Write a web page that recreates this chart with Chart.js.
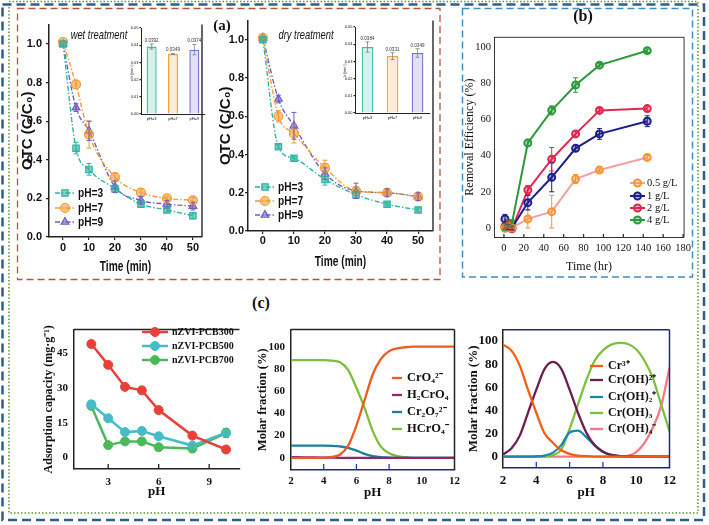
<!DOCTYPE html>
<html>
<head>
<meta charset="utf-8">
<script src="https://cdn.jsdelivr.net/npm/chart.js@4.4.1/dist/chart.umd.min.js"></script>
<style>
  body { margin: 0; background: #fff; width: 709px; height: 525px; position: relative; overflow: hidden; }
  canvas { position: absolute; }
  svg { position: absolute; left: 0; top: 0; }
  .etiket { position: absolute; white-space: nowrap; line-height: 1; color: #111; transform: translate(-50%, -50%); }
  .dar { transform: translate(-50%, -50%) scaleX(0.72); }
</style>
</head>
<body>

<svg width="709" height="525">
  <rect x="9" y="1.5" width="689" height="511.5" fill="none" stroke="#5c9a2c" stroke-width="1.5" stroke-dasharray="1.5,2"/>
  <rect x="2.5" y="4.5" width="701.5" height="515.5" fill="none" stroke="#2c5f8f" stroke-width="2.5" stroke-dasharray="9,5"/>
  <rect x="17.5" y="8.5" width="422.5" height="271" fill="none" stroke="#b4553a" stroke-width="1.3" stroke-dasharray="7,4"/>
  <rect x="462.5" y="8.5" width="230" height="268.5" fill="none" stroke="#3f8fbf" stroke-width="1.5" stroke-dasharray="7,4"/>
</svg>

<canvas id="cIslak"></canvas>
<canvas id="cIslakK"></canvas>
<canvas id="cKuru"></canvas>
<canvas id="cKuruK"></canvas>
<canvas id="cGiderim"></canvas>
<canvas id="cAdsorpsiyon"></canvas>
<canvas id="cKrom6"></canvas>
<canvas id="cKrom3"></canvas>

<div class="etiket" style="left:222px;top:25px;font:bold 15px 'Liberation Serif',serif;">(a)</div>
<div class="etiket" style="left:583px;top:16px;font:bold 16px 'Liberation Serif',serif;">(b)</div>
<div class="etiket" style="left:261px;top:303px;font:bold 16px 'Liberation Serif',serif;">(c)</div>
<div class="etiket dar" style="left:99px;top:34px;font:italic 13px 'Liberation Sans',sans-serif;">wet treatment</div>
<div class="etiket dar" style="left:306px;top:34px;font:italic 13px 'Liberation Sans',sans-serif;">dry treatment</div>

<script>
/*PANEL A VERILERI*/
var sureDk = [0, 5, 10, 20, 30, 40, 50];
var islakPh3 = [1.00, 0.46, 0.35, 0.25, 0.17, 0.14, 0.11];
var islakPh7 = [1.01, 0.79, 0.53, 0.31, 0.23, 0.20, 0.19];
var islakPh9 = [1.00, 0.67, 0.55, 0.26, 0.19, 0.17, 0.16];
var islakHata3 = [0, 0.03, 0.03, 0.02, 0.015, 0.01, 0.015];
var islakHata7 = [0, 0.02, 0.07, 0.02, 0.02, 0.01, 0.015];
var islakHata9 = [0, 0.02, 0.05, 0.03, 0.02, 0.02, 0.02];
var kuruPh3 = [1.00, 0.44, 0.38, 0.27, 0.19, 0.14, 0.11];
var kuruPh7 = [1.01, 0.60, 0.51, 0.33, 0.21, 0.20, 0.18];
var kuruPh9 = [1.01, 0.69, 0.55, 0.30, 0.21, 0.20, 0.18];
var kuruHata3 = [0, 0.01, 0.01, 0.03, 0.02, 0.01, 0.01];
var kuruHata7 = [0, 0.03, 0.05, 0.04, 0.02, 0.01, 0.01];
var kuruHata9 = [0, 0.02, 0.07, 0.03, 0.04, 0.02, 0.02];
var otcTikX = [0, 10, 20, 30, 40, 50];
var otcTikY = [0, 0.2, 0.4, 0.6, 0.8, 1.0];

var phEtiketleri = ['pH=3', 'pH=7', 'pH=9'];
var islakK = [0.0392, 0.0349, 0.0374];
var islakKHata = [0.0015, 0.0003, 0.003];
var kuruK = [0.0384, 0.0331, 0.0349];
var kuruKHata = [0.003, 0.002, 0.0025];
var kTik = [0, 0.01, 0.02, 0.03, 0.04, 0.05];

/*PANEL B VERILERI*/
var sureSaat = [1, 4, 8, 24, 48, 72, 96, 144];
var giderim05 = [0, 0.5, 0, 5, 9, 27, 32, 39];
var giderim1 = [5, 0.5, 0, 14, 28, 44, 52, 59];
var giderim2 = [1, 2, -0.5, 21, 38, 52, 65, 66];
var giderim4 = [0, 2.5, 2.5, 47, 65, 79, 90, 98];
var giderimHata05 = [2, 2.5, 1.5, 5, 9, 2.5, 1, 1];
var giderimHata1 = [2.5, 1.5, 1, 4, 8, 1.5, 3, 3];
var giderimHata2 = [1.5, 2, 1, 2.5, 6.5, 1.5, 1, 1];
var giderimHata4 = [1.5, 2, 1.5, 2, 2.5, 4, 1, 1];
var bTikX = [0, 20, 40, 60, 80, 100, 120, 140, 160, 180];
var bTikY = [0, 20, 40, 60, 80, 100];

/*PANEL C VERILERI*/
var phDegerleri = [2, 3, 4, 5, 6, 8, 10];
var pcb300 = [49, 40, 30.5, 29, 20.5, 9.5, 3.5];
var pcb500 = [23, 17, 11, 11.5, 9.2, 5.2, 10.8];
var pcb700 = [22.3, 5.4, 7, 7, 4.5, 3.9, 10.6];
var pcbHata300 = [0, 0, 0, 0, 0, 1, 0.8];
var pcbHata500 = [1.5, 0, 0, 0, 0, 0.8, 1.5];
var pcbHata700 = [0, 0, 0, 0, 0, 1.5, 2];
var c1TikX = [3, 6, 9];
var c1TikY = [0, 15, 30, 45];

var phIzgara = [2, 2.5, 3, 3.5, 4, 4.5, 5, 5.5, 6, 6.5, 7, 7.5, 8, 8.5, 9, 9.5, 10, 10.5, 11, 11.5, 12];
var kromat = [0, 0, 0, 0, 0.2, 0.8, 3, 11, 29, 52, 75, 89, 96, 98.5, 99.5, 100, 100, 100, 100, 100, 100];
var kromikAsit = [0.5, 0.5, 0.4, 0.3, 0.2, 0.1, 0, 0, 0, 0, 0, 0, 0, 0, 0, 0, 0, 0, 0, 0, 0];
var dikromat = [11, 11, 11, 11, 11, 10.8, 10.2, 9, 6.5, 3.5, 1.5, 0.5, 0.2, 0, 0, 0, 0, 0, 0, 0, 0];
var hidrojenKromat = [88, 88, 88, 88, 88, 87.5, 86, 79, 63, 45, 24, 10, 4, 1.5, 0.5, 0, 0, 0, 0, 0, 0];

var krom3 = [97, 92, 79, 58, 38, 20, 12, 5.5, 2.5, 1, 0.4, 0.1, 0, 0, 0, 0, 0, 0, 0, 0, 0];
var kromOH = [2, 7, 18, 38, 58, 76, 82, 76, 58, 38, 21, 10, 4.5, 1.5, 0.5, 0.2, 0, 0, 0, 0, 0];
var kromOH2 = [0, 0, 0, 0, 0.3, 1, 3.5, 10, 21, 22.5, 17, 10, 4, 1.5, 0.5, 0.1, 0, 0, 0, 0, 0];
var kromOH3 = [0, 0, 0, 0, 0, 0.3, 1.5, 6, 24, 45, 66, 83, 92, 97, 98.5, 97.5, 93, 83, 68, 45, 22];
var kromOH4 = [0, 0, 0, 0, 0, 0, 0, 0, 0, 0, 0, 0, 0, 0, 0, 0.8, 4, 12, 25, 44, 77];
var cTikX = [2, 4, 6, 8, 10, 12];
var cTikY = [0, 20, 40, 60, 80, 100];

/*FONTLAR*/
var sans = "'Liberation Sans', Arial, sans-serif";
var serif = "'Liberation Serif', 'Times New Roman', serif";
Chart.defaults.font.family = sans;
Chart.defaults.color = '#111';

/*EKLENTILER*/
var hataCubugu = {
  id: 'hataCubugu',
  afterDatasetsDraw: function (chart, args, o) {
    var ctx = chart.ctx;
    chart.data.datasets.forEach(function (ds, i) {
      if (!ds.hata) return;
      var meta = chart.getDatasetMeta(i);
      var yS = chart.scales[meta.yAxisID];
      meta.data.forEach(function (el, j) {
        var h = ds.hata[j];
        if (!h) return;
        var v = ds.data[j];
        v = (typeof v === 'object') ? v.y : v;
        var ust = yS.getPixelForValue(v + h), alt = yS.getPixelForValue(v - h);
        var w = o.kep || 2.5;
        ctx.save();
        ctx.strokeStyle = ds.hataRenk || ds.pointBorderColor || ds.borderColor;
        ctx.lineWidth = o.kalinlik || 1;
        ctx.beginPath();
        ctx.moveTo(el.x, ust); ctx.lineTo(el.x, alt);
        ctx.moveTo(el.x - w, ust); ctx.lineTo(el.x + w, ust);
        ctx.moveTo(el.x - w, alt); ctx.lineTo(el.x + w, alt);
        ctx.stroke();
        ctx.restore();
      });
    });
  }
};

var cerceve = {
  id: 'cerceve',
  afterDraw: function (chart, args, o) {
    if (!o || !o.kenar) return;
    var a = chart.chartArea, ctx = chart.ctx;
    ctx.save();
    ctx.strokeStyle = o.renk || '#222';
    ctx.lineWidth = o.kalinlik || 1.5;
    ctx.beginPath();
    if (o.kenar.indexOf('t') >= 0) { ctx.moveTo(a.left, a.top); ctx.lineTo(a.right, a.top); }
    if (o.kenar.indexOf('r') >= 0) { ctx.moveTo(a.right, a.top); ctx.lineTo(a.right, a.bottom); }
    ctx.stroke();
    ctx.restore();
  }
};

var icTik = {
  id: 'icTik',
  afterDraw: function (chart, args, o) {
    if (!o || !o.degerler) return;
    var xS = chart.scales.x, ctx = chart.ctx, alt = chart.chartArea.bottom;
    ctx.save();
    ctx.strokeStyle = o.renk || '#222';
    ctx.lineWidth = 1.3;
    ctx.beginPath();
    o.degerler.forEach(function (v) {
      var x = xS.getPixelForValue(v);
      ctx.moveTo(x, alt); ctx.lineTo(x, alt - (o.boy || 5));
    });
    ctx.stroke();
    ctx.restore();
  }
};

var icLejant = {
  id: 'icLejant',
  afterDraw: function (chart, args, o) {
    if (!o || !o.ylar) return;
    var ctx = chart.ctx, tuval = chart.canvas;
    var ox = parseFloat(tuval.style.left), oy = parseFloat(tuval.style.top);
    chart.data.datasets.forEach(function (ds, i) {
      var y = o.ylar[i] - oy;
      ctx.save();
      ctx.strokeStyle = ds.borderColor;
      ctx.lineWidth = ds.borderWidth;
      ctx.setLineDash(ds.borderDash || []);
      ctx.beginPath();
      ctx.moveTo(o.x1 - ox, y); ctx.lineTo(o.x2 - ox, y);
      ctx.stroke();
      ctx.setLineDash([]);
      if (ds.pointRadius) {
        ctx.fillStyle = ds.pointBackgroundColor;
        ctx.strokeStyle = ds.pointBorderColor;
        ctx.lineWidth = ds.pointBorderWidth;
        Chart.helpers.drawPoint(ctx, {pointStyle: ds.pointStyle, radius: ds.pointRadius, borderWidth: ds.pointBorderWidth, rotation: 0}, (o.x1 + o.x2) / 2 - ox, y);
      }
      ctx.fillStyle = o.renk || '#111';
      ctx.font = o.font;
      ctx.textBaseline = 'middle';
      ctx.translate(o.metinX - ox, y);
      ctx.scale(o.olcek || 1, 1);
      ctx.fillText(ds.label, 0, 0);
      ctx.restore();
    });
  }
};

/*dar yazilan x ekseni basligi*/
var darBaslik = {
  id: 'darBaslik',
  afterDraw: function (chart, args, o) {
    if (!o || !o.metin) return;
    var ctx = chart.ctx, a = chart.chartArea;
    ctx.save();
    ctx.font = o.font;
    ctx.fillStyle = '#111';
    ctx.textAlign = 'center';
    ctx.textBaseline = 'middle';
    ctx.translate((a.left + a.right) / 2, a.bottom + o.aralik);
    ctx.scale(o.olcek, 1);
    ctx.fillText(o.metin, 0, 0);
    ctx.restore();
  }
};

var degerYaz = {
  id: 'degerYaz',
  afterDatasetsDraw: function (chart, args, o) {
    if (!o || !o.font) return;
    var ctx = chart.ctx;
    var ds = chart.data.datasets[0];
    var meta = chart.getDatasetMeta(0);
    var yS = chart.scales.y;
    ctx.save();
    ctx.font = o.font;
    ctx.fillStyle = '#333';
    ctx.textAlign = 'center';
    ctx.textBaseline = 'bottom';
    meta.data.forEach(function (el, j) {
      var v = ds.data[j] + (ds.hata ? ds.hata[j] : 0);
      ctx.fillText(ds.data[j].toFixed(4), el.x, yS.getPixelForValue(v) - 1);
    });
    ctx.restore();
  }
};

Chart.register(hataCubugu, cerceve, icTik, icLejant, darBaslik, degerYaz);

/*YARDIMCI FONKSIYONLAR*/
function grafikKur(id, kutu, yw, xh, pt, pr, ayar) {
  var tuval = document.getElementById(id);
  var sol = kutu[0] - yw, ust = kutu[1] - pt;
  var gen = kutu[2] + pr - sol, yuk = kutu[3] + xh - ust;
  tuval.width = gen;
  tuval.height = yuk;
  tuval.style.left = sol + 'px';
  tuval.style.top = ust + 'px';
  tuval.style.width = gen + 'px';
  tuval.style.height = yuk + 'px';
  ayar.options.responsive = false;
  ayar.options.animation = false;
  ayar.options.devicePixelRatio = 1;
  ayar.options.layout = {padding: {left: 0, top: pt, right: pr, bottom: 0}};
  ayar.options.scales.x.afterFit = function (s) { s.height = xh; };
  ayar.options.scales.y.afterFit = function (s) { s.width = yw; };
  ayar.options.plugins.legend = {display: false};
  ayar.options.plugins.tooltip = {enabled: false};
  return new Chart(tuval, ayar);
}

function eksenYap(o) {
  var e = {
    type: o.tip || 'linear',
    grid: {display: true, drawOnChartArea: false, drawTicks: (o.tikBoy || 0) > 0, tickLength: o.tikBoy || 0, color: o.renk || '#222', lineWidth: 1.2},
    border: {display: true, color: o.renk || '#222', width: o.kalinlik || 1.5},
    ticks: {font: o.font, color: '#111', padding: o.tikPad || 0, maxRotation: 0, autoSkip: false},
    title: {display: !!o.baslik, text: o.baslik, font: o.baslikFont, color: '#111', padding: o.baslikPad || 0}
  };
  if (o.min !== undefined) { e.min = o.min; e.max = o.max; }
  if (o.tikler) {
    e.afterBuildTicks = function (s) { s.ticks = o.tikler.map(function (v) { return {value: v}; }); };
  }
  if (o.bicim) e.ticks.callback = o.bicim;
  return e;
}

function xyYap(xler, yler) {
  return xler.map(function (x, i) { return {x: x, y: yler[i]}; });
}

function otcSeti(etiket, yler, hata, renk, sekil) {
  return {
    label: etiket, data: xyYap(sureDk, yler), hata: hata,
    borderColor: renk, backgroundColor: renk, borderWidth: 1.4, borderDash: [5, 2, 1.5, 2],
    pointStyle: sekil, pointRadius: 4.5, pointBorderWidth: 1.2,
    pointBackgroundColor: renk + '99', pointBorderColor: renk,
    cubicInterpolationMode: 'monotone'
  };
}

function giderimSeti(etiket, yler, hata, cizgiRenk, noktaRenk) {
  return {
    label: etiket, data: xyYap(sureSaat, yler), hata: hata,
    borderColor: cizgiRenk, borderWidth: 2,
    pointStyle: 'circle', pointRadius: 3.5, pointBorderWidth: 2,
    pointBackgroundColor: noktaRenk + '55', pointBorderColor: noktaRenk
  };
}

function pcbSeti(etiket, yler, hata, renk) {
  return {
    label: etiket, data: xyYap(phDegerleri, yler), hata: hata,
    borderColor: renk, borderWidth: 2.5,
    pointStyle: 'circle', pointRadius: 4.5, pointBorderWidth: 1,
    pointBackgroundColor: renk, pointBorderColor: renk
  };
}

function turSeti(etiket, yler, renk) {
  return {
    label: etiket, data: xyYap(phIzgara, yler),
    borderColor: renk, borderWidth: 2.3, pointRadius: 0,
    cubicInterpolationMode: 'monotone'
  };
}

/*PANEL A - OTC GRAFIKLERI*/
var otcRenkleri = ['#2fb3a3', '#f39c34', '#6f5fc0'];

function otcGrafik(id, kutu, ph3, ph7, ph9, h3, h7, h9, xMin, xMax, yTikPad, yBaslikPad, xTikPad, baslikAralik, lejantX, lejantY) {
  return grafikKur(id, kutu, 35, 40, 4, 6, {
    type: 'line',
    data: {
      datasets: [
        otcSeti('pH=3', ph3, h3, otcRenkleri[0], 'rect'),
        otcSeti('pH=7', ph7, h7, otcRenkleri[1], 'circle'),
        otcSeti('pH=9', ph9, h9, otcRenkleri[2], 'triangle')
      ]
    },
    options: {
      scales: {
        x: eksenYap({min: xMin, max: xMax, tikler: otcTikX, tikBoy: 3, tikPad: xTikPad,
          font: {family: sans, size: 11, weight: 'bold'}}),
        y: eksenYap({min: 0, max: 1.1, tikler: otcTikY, tikBoy: 3, tikPad: yTikPad,
          font: {family: sans, size: 11, weight: 'bold'},
          bicim: function (v) { return v.toFixed(1); },
          baslik: 'OTC (C/C\u2080)', baslikFont: {family: sans, size: 15, weight: 'bold'}, baslikPad: {top: yBaslikPad, bottom: 0}})
      },
      plugins: {
        hataCubugu: {kep: 2.5, kalinlik: 1},
        cerceve: {kenar: 'r', renk: '#333', kalinlik: 1.5},
        darBaslik: {metin: 'Time (min)', font: 'bold 15px ' + sans, olcek: 0.68, aralik: baslikAralik},
        icLejant: {x1: lejantX, x2: lejantX + 20, metinX: lejantX + 23, ylar: lejantY, font: 'bold 13px ' + sans, olcek: 0.78}
      }
    }
  });
}

otcGrafik('cIslak', [49, 18, 202, 237], islakPh3, islakPh7, islakPh9, islakHata3, islakHata7, islakHata9,
  -5.4, 53.5, 4, 5, 1, 30, 55, [193, 208, 222]);
otcGrafik('cKuru', [248, 17, 433, 231], kuruPh3, kuruPh7, kuruPh9, kuruHata3, kuruHata7, kuruHata9,
  -4.8, 54.8, 1, 4, 0, 31, 255, [187, 201, 215]);

/*PANEL A - K DEGERI ICLERI*/
function kGrafik(id, kutu, yw, degerler, hatalar) {
  return grafikKur(id, kutu, yw, 8, 4, 2, {
    type: 'bar',
    data: {
      labels: phEtiketleri,
      datasets: [{
        data: degerler, hata: hatalar,
        backgroundColor: ['rgba(60,190,168,0.22)', 'rgba(245,163,58,0.22)', 'rgba(127,111,207,0.22)'],
        borderColor: ['#3cbfa8', '#f5a33a', '#7f6fcf'],
        hataRenk: '#6a8a9a',
        borderWidth: 1.3, categoryPercentage: 1, barPercentage: 0.47
      }]
    },
    options: {
      scales: {
        x: eksenYap({tip: 'category', tikPad: 2, font: {family: sans, size: 4}, kalinlik: 1, renk: '#223'}),
        y: eksenYap({min: 0, max: 0.05, tikler: kTik, tikBoy: 1.5, tikPad: 1, kalinlik: 1, renk: '#223',
          font: {family: sans, size: 4},
          bicim: function (v) { return v.toFixed(2); },
          baslik: 'k (min\u207B\u00B9)', baslikFont: {family: sans, size: 3.5}, baslikPad: {top: 2, bottom: 0}})
      },
      plugins: {
        hataCubugu: {kep: 2, kalinlik: 0.8},
        degerYaz: {font: '4.5px ' + sans}
      }
    }
  });
}

kGrafik('cIslakK', [141, 28, 205, 114], 13, islakK, islakKHata);
kGrafik('cKuruK', [355, 27, 430, 113], 14, kuruK, kuruKHata);

/*PANEL B - GIDERIM VERIMI*/
grafikKur('cGiderim', [494, 33, 686, 237], 35, 40, 5, 10, {
  type: 'line',
  data: {
    datasets: [
      giderimSeti('0.5 g/L', giderim05, giderimHata05, '#f2a0a6', '#f5962e'),
      giderimSeti('1 g/L', giderim1, giderimHata1, '#1d1f8e', '#1d1f8e'),
      giderimSeti('2 g/L', giderim2, giderimHata2, '#e0284e', '#e0284e'),
      giderimSeti('4 g/L', giderim4, giderimHata4, '#2a9a3a', '#2a9a3a')
    ]
  },
  options: {
    scales: {
      x: eksenYap({min: -10, max: 181, tikler: bTikX, tikPad: 5, kalinlik: 1, renk: '#333',
        font: {family: serif, size: 10.5},
        baslik: 'Time (hr)', baslikFont: {family: serif, size: 12}, baslikPad: {top: 0, bottom: 3}}),
      y: eksenYap({min: -5, max: 105.4, tikler: bTikY, tikPad: 3, kalinlik: 1, renk: '#333',
        font: {family: serif, size: 10.5},
        baslik: 'Removal Efficiency (%)', baslikFont: {family: serif, size: 12}, baslikPad: {top: 4, bottom: 0}})
    },
    plugins: {
      hataCubugu: {kep: 2.5, kalinlik: 1},
      cerceve: {kenar: 'tr', renk: '#333', kalinlik: 1},
      icTik: {degerler: bTikX, renk: '#333', boy: 3},
      icLejant: {x1: 630, x2: 645, metinX: 647, ylar: [183, 196, 208, 220], font: '10.5px ' + serif}
    }
  }
});

/*PANEL C - ADSORPSIYON KAPASITESI*/
grafikKur('cAdsorpsiyon', [74, 322, 243, 469], 39, 30, 5, 2, {
  type: 'line',
  data: {
    datasets: [
      pcbSeti('nZVI-PCB300', pcb300, pcbHata300, '#e8403a'),
      pcbSeti('nZVI-PCB500', pcb500, pcbHata500, '#45bcc6'),
      pcbSeti('nZVI-PCB700', pcb700, pcbHata700, '#4cb85a')
    ]
  },
  options: {
    scales: {
      x: eksenYap({min: 0.97, max: 10.8, tikler: c1TikX, tikPad: 7,
        font: {family: serif, size: 11, weight: 'bold'},
        baslik: 'pH', baslikFont: {family: serif, size: 13, weight: 'bold'}, baslikPad: {top: 0, bottom: 0}}),
      y: eksenYap({min: -4.9, max: 55.2, tikler: c1TikY, tikPad: 6,
        font: {family: serif, size: 11, weight: 'bold'},
        baslik: 'Adsorption capacity (mg\u00B7g\u207B\u00B9)', baslikFont: {family: serif, size: 12, weight: 'bold'}, baslikPad: {top: 7, bottom: 0}})
    },
    plugins: {
      hataCubugu: {kep: 3, kalinlik: 1},
      cerceve: {kenar: 't', renk: '#222', kalinlik: 1.5},
      icTik: {degerler: c1TikX, renk: '#222', boy: 5},
      icLejant: {x1: 142, x2: 168, metinX: 172, ylar: [332, 346, 360], font: 'bold 10px ' + serif}
    }
  }
});

/*PANEL C - CR(VI) TURLERI*/
grafikKur('cKrom6', [291, 322, 456, 470], 38, 30, 5, 9, {
  type: 'line',
  data: {
    datasets: [
      turSeti('CrO\u2084\u00B2\u207B', kromat, '#f05a1e'),
      turSeti('H\u2082CrO\u2084', kromikAsit, '#8a2a6a'),
      turSeti('Cr\u2082O\u2087\u00B2\u207B', dikromat, '#1a7ea0'),
      turSeti('HCrO\u2084\u207B', hidrojenKromat, '#7cbf3a')
    ]
  },
  options: {
    scales: {
      x: eksenYap({min: 2, max: 12, tikler: cTikX, tikPad: 5, renk: '#1e2a70',
        font: {family: serif, size: 11, weight: 'bold'},
        baslik: 'pH', baslikFont: {family: serif, size: 13, weight: 'bold'}, baslikPad: {top: 0, bottom: 0}}),
      y: eksenYap({min: -11, max: 115.4, tikler: cTikY, tikPad: 6,
        font: {family: serif, size: 11, weight: 'bold'},
        baslik: 'Molar fraction (%)', baslikFont: {family: serif, size: 12.5, weight: 'bold'}, baslikPad: {top: 2.5, bottom: 0}})
    },
    plugins: {
      cerceve: {kenar: 'tr', renk: '#222', kalinlik: 1.5},
      icTik: {degerler: [4, 6, 8], renk: '#2838b0', boy: 6},
      icLejant: {x1: 392, x2: 402, metinX: 407, ylar: [378, 395, 412, 429], font: 'bold 12.5px ' + serif}
    }
  }
});

/*PANEL C - CR(III) TURLERI*/
grafikKur('cKrom3', [503, 322, 672, 468], 42, 32, 5, 9, {
  type: 'line',
  data: {
    datasets: [
      turSeti('Cr\u00B3\u207A', krom3, '#f0600f'),
      turSeti('Cr(OH)\u00B2\u207A', kromOH, '#6e1e4e'),
      turSeti('Cr(OH)\u2082\u207A', kromOH2, '#1a88a8'),
      turSeti('Cr(OH)\u2083', kromOH3, '#7cc040'),
      turSeti('Cr(OH)\u2084\u207B', kromOH4, '#f4788a')
    ]
  },
  options: {
    scales: {
      x: eksenYap({min: 2, max: 12, tikler: cTikX, tikPad: 5, renk: '#1e2a70',
        font: {family: serif, size: 13, weight: 'bold'},
        baslik: 'pH', baslikFont: {family: serif, size: 13, weight: 'bold'}, baslikPad: {top: 0, bottom: 0}}),
      y: eksenYap({min: -9.8, max: 109.8, tikler: cTikY, tikPad: 5,
        font: {family: serif, size: 13, weight: 'bold'},
        baslik: 'Molar fraction (%)', baslikFont: {family: serif, size: 13, weight: 'bold'}, baslikPad: {top: 5, bottom: 0}})
    },
    plugins: {
      cerceve: {kenar: 'tr', renk: '#1e2a70', kalinlik: 1.5},
      icTik: {degerler: [4, 6, 8], renk: '#2838b0', boy: 6},
      icLejant: {x1: 590, x2: 603, metinX: 608, ylar: [366, 380, 397, 413, 429], font: 'bold 12px ' + serif}
    }
  }
});
</script>
</body>
</html>
